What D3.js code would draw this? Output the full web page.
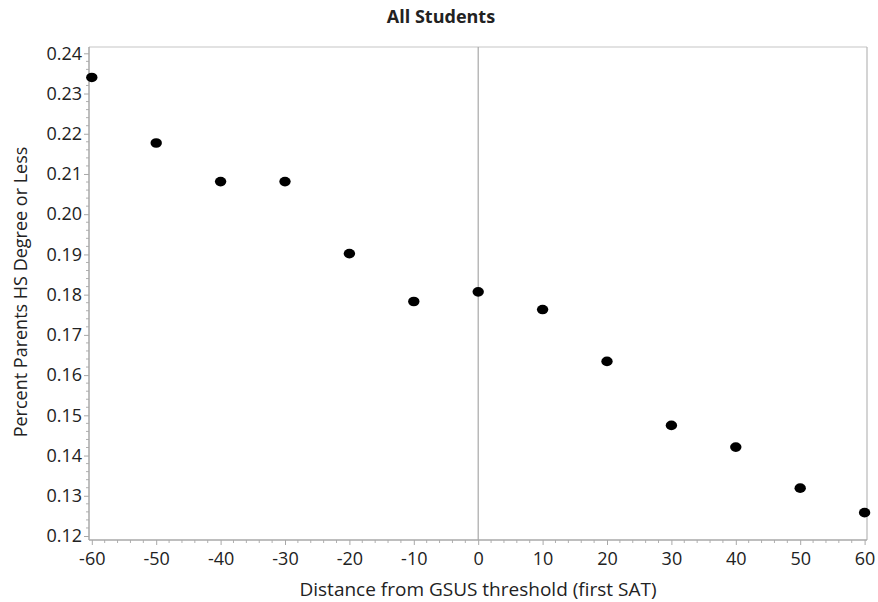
<!DOCTYPE html>
<html>
<head>
<meta charset="utf-8">
<script src="https://cdn.jsdelivr.net/npm/d3@7"></script>
<style>
  html, body { margin: 0; padding: 0; background: #fff; }
  svg text { font-family: "Open Sans", "Noto Sans", sans-serif; fill: #222; }
</style>
</head>
<body>
<svg id="chart" width="878" height="602"></svg>
<script>
const distances = [-60, -50, -40, -30, -20, -10, 0, 10, 20, 30, 40, 50, 60];
const pctParentsHS = [0.2340, 0.2177, 0.2081, 0.2081, 0.1902, 0.1783, 0.1807, 0.1763, 0.1634, 0.1475, 0.1421, 0.1319, 0.1258];
const xTicks = [-60, -50, -40, -30, -20, -10, 0, 10, 20, 30, 40, 50, 60];
const yTicks = [0.12, 0.13, 0.14, 0.15, 0.16, 0.17, 0.18, 0.19, 0.20, 0.21, 0.22, 0.23, 0.24];
const title = "All Students";
const xLabel = "Distance from GSUS threshold (first SAT)";
const yLabel = "Percent Parents HS Degree or Less";

const svg = d3.select("#chart");
const pLeft = 89, pRight = 867, pTop = 47, pBottom = 540;

const x = d3.scaleLinear().domain([-60, 60]).range([91.8, 864.6]);
const y = d3.scaleLinear().domain([0.12, 0.24]).range([536, 53.3]);

// frame
svg.append("line").attr("x1", pLeft).attr("x2", pRight).attr("y1", pTop).attr("y2", pTop)
  .attr("stroke", "#d8d8d8").attr("stroke-width", 1.5);
svg.append("line").attr("x1", pRight).attr("x2", pRight).attr("y1", pTop).attr("y2", pBottom)
  .attr("stroke", "#b8b8b8").attr("stroke-width", 1.2);

// reference line at 0
svg.append("line").attr("x1", x(0)).attr("x2", x(0)).attr("y1", pTop).attr("y2", pBottom)
  .attr("stroke", "#a8a8a8").attr("stroke-width", 1.2);

// minor ticks
const xMinor = d3.range(-60, 60.001, 2).filter(v => Math.abs(v % 10) > 0.01);
svg.append("g").selectAll("line").data(xMinor).join("line")
  .attr("x1", d => x(d)).attr("x2", d => x(d))
  .attr("y1", pBottom).attr("y2", pBottom + 3)
  .attr("stroke", "#b0b0b0").attr("stroke-width", 1);
const yMinor = d3.range(0.12, 0.24001, 0.002).filter(v => Math.abs(Math.round(v * 1000) % 10) > 0.01);
svg.append("g").selectAll("line").data(yMinor).join("line")
  .attr("x1", pLeft - 3).attr("x2", pLeft)
  .attr("y1", d => y(d)).attr("y2", d => y(d))
  .attr("stroke", "#b0b0b0").attr("stroke-width", 1);

// x axis
const xAxis = svg.append("g").attr("transform", `translate(0,${pBottom})`)
  .call(d3.axisBottom(x).tickValues(xTicks).tickFormat(d3.format("d")).tickSize(5).tickSizeOuter(0));
xAxis.select(".domain").attr("d", `M${pLeft},0H${pRight}`).attr("stroke", "#a8a8a8").attr("stroke-width", 1.5);
xAxis.selectAll(".tick line").attr("stroke", "#a8a8a8");
xAxis.selectAll(".tick text").attr("dy", "0.71em").attr("y", 12)
  .style("font-size", "18px").attr("fill", "#222").text(d => d < 0 ? "-" + Math.abs(d) : d);

// y axis
const yAxis = svg.append("g").attr("transform", `translate(${pLeft},0)`)
  .call(d3.axisLeft(y).tickValues(yTicks).tickFormat(d3.format(".2f")).tickSize(5).tickSizeOuter(0));
yAxis.select(".domain").attr("d", `M0,${pTop}V${pBottom}`).attr("stroke", "#a8a8a8").attr("stroke-width", 1.5);
yAxis.selectAll(".tick line").attr("stroke", "#a8a8a8");
yAxis.selectAll(".tick text").attr("x", -7).style("font-size", "18px").attr("fill", "#222");

// points
svg.append("g").selectAll("ellipse").data(distances).join("ellipse")
  .attr("cx", (d, i) => x(d)).attr("cy", (d, i) => y(pctParentsHS[i]))
  .attr("rx", 5.7).attr("ry", 4.8).attr("fill", "#000");

// title & labels
svg.append("text").attr("x", 441).attr("y", 23).attr("text-anchor", "middle")
  .style("font-size", "18px").style("font-weight", "bold").text(title);
svg.append("text").attr("x", 478).attr("y", 596).attr("text-anchor", "middle")
  .style("font-size", "19px").text(xLabel);
svg.append("text").attr("transform", "translate(27,292) rotate(-90)").attr("text-anchor", "middle")
  .style("font-size", "18px").text(yLabel);
</script>
</body>
</html>
